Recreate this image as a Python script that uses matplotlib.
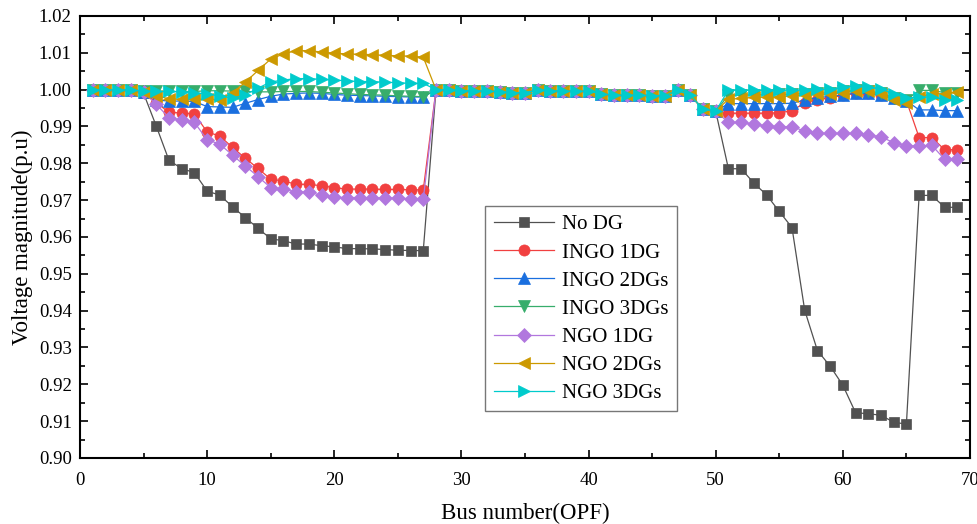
import matplotlib
matplotlib.use("Agg")
import matplotlib.pyplot as plt
from matplotlib.ticker import MultipleLocator, FormatStrFormatter

plt.rcParams['font.family'] = ['Liberation Serif', 'DejaVu Serif']

buses = list(range(1, 70))

# shared lateral-branch values (buses 28-50), identical for all cases
lateral_28_50 = [0.99999, 0.99993, 0.99974, 0.99970, 0.99961, 0.99943, 0.99920, 0.99915,
                 0.99996, 0.99974, 0.99960, 0.99958, 0.99958, 0.99883, 0.99851, 0.99847,
                 0.99846, 0.99839, 0.99839, 0.99978, 0.99854, 0.99469, 0.99415]

no_dg_1_27 = [1.0, 0.99997, 0.99993, 0.99984, 0.99902, 0.99009, 0.98079, 0.97858, 0.97745,
              0.97245, 0.97135, 0.96819, 0.96526, 0.96237, 0.95951, 0.95898, 0.95809, 0.95808,
              0.95762, 0.95732, 0.95684, 0.95683, 0.95676, 0.95659, 0.95640, 0.95632, 0.95630]
no_dg_51_69 = [0.97853, 0.97853, 0.97465, 0.97141, 0.96693, 0.96256, 0.94011, 0.92917, 0.92493,
               0.91975, 0.91230, 0.91200, 0.91161, 0.90970, 0.90919, 0.97129, 0.97129, 0.96806, 0.96806]

ingo1_1_27 = [1.0, 0.99998, 0.99995, 0.9999, 0.9995, 0.9965, 0.9938, 0.9937, 0.9934, 0.9885,
              0.9874, 0.9843, 0.9814, 0.9786, 0.9757, 0.9752, 0.9743, 0.9743, 0.9739, 0.9734,
              0.9730, 0.9730, 0.9730, 0.9729, 0.9729, 0.9728, 0.9728]
ingo1_51_69 = [0.9936, 0.9936, 0.9936, 0.9936, 0.9937, 0.9943, 0.9964, 0.9973, 0.9978, 0.9985,
               0.9991, 0.9991, 0.9986, 0.9976, 0.9970, 0.9870, 0.9870, 0.9837, 0.9837]

ingo2_1_27 = [1.0, 0.99998, 0.99995, 0.9999, 0.9993, 0.9972, 0.9969, 0.9969, 0.9968, 0.9954,
              0.9953, 0.9952, 0.9963, 0.9973, 0.9982, 0.9988, 0.9990, 0.9991, 0.9990, 0.9987,
              0.9985, 0.9984, 0.9983, 0.9982, 0.9981, 0.9980, 0.9980]
ingo2_51_69 = [0.9962, 0.9962, 0.9962, 0.9962, 0.9962, 0.9963, 0.9972, 0.9978, 0.9982, 0.9985,
               0.9990, 0.9990, 0.9985, 0.9976, 0.9970, 0.9945, 0.9945, 0.9943, 0.9943]

ingo3_1_27 = [1.0, 0.99998, 0.99995, 0.9999, 0.9996, 0.9995, 0.9995, 0.9995, 0.9995, 0.9997,
              0.9997, 0.9996, 0.9995, 0.9994, 0.9994, 0.9995, 0.9995, 0.9995, 0.9993, 0.9991,
              0.9989, 0.9987, 0.9986, 0.9985, 0.9983, 0.9982, 0.9981]
ingo3_51_69 = [0.9985, 0.9985, 0.9986, 0.9986, 0.9987, 0.9988, 0.9989, 0.9990, 0.9992, 0.9995,
               0.9998, 0.9996, 0.9991, 0.9978, 0.9972, 0.9998, 0.9998, 0.9992, 0.9992]

ngo1_1_27 = [1.0, 0.99998, 0.99995, 0.9999, 0.9993, 0.9960, 0.9924, 0.9917, 0.9911, 0.9864,
             0.9852, 0.9822, 0.9793, 0.9764, 0.9734, 0.9730, 0.9722, 0.9722, 0.9713, 0.9708,
             0.9707, 0.9707, 0.9706, 0.9706, 0.9705, 0.9704, 0.9702]
ngo1_51_69 = [0.9911, 0.9911, 0.9906, 0.9902, 0.9899, 0.9899, 0.9888, 0.9881, 0.9881, 0.9881,
              0.9881, 0.9877, 0.9872, 0.9856, 0.9847, 0.9847, 0.9849, 0.9811, 0.9811]

ngo2_1_27 = [1.0, 0.99998, 0.99995, 0.9999, 0.9994, 0.9984, 0.9975, 0.9974, 0.9974, 0.9974,
             0.9973, 0.9992, 1.0020, 1.0052, 1.0083, 1.0097, 1.0106, 1.0106, 1.0102, 1.0099,
             1.0097, 1.0096, 1.0095, 1.0093, 1.0092, 1.0091, 1.0088]
ngo2_51_69 = [0.9974, 0.9976, 0.9979, 0.9980, 0.9981, 0.9983, 0.9985, 0.9987, 0.9988, 0.9992,
              0.9997, 0.9995, 0.9988, 0.9972, 0.9965, 0.9979, 0.9989, 0.9989, 0.9993]

ngo3_1_27 = [1.0, 0.99998, 0.99995, 0.9999, 0.9996, 0.9995, 0.9995, 0.9994, 0.9992, 0.9988,
             0.9983, 0.9977, 0.9986, 1.0004, 1.0021, 1.0026, 1.0030, 1.0030, 1.0028, 1.0026,
             1.0024, 1.0022, 1.0022, 1.0020, 1.0019, 1.0017, 1.0017]
ngo3_51_69 = [0.9999, 0.9998, 0.9998, 0.9998, 0.9998, 0.9999, 0.9999, 1.0001, 1.0001, 1.0006,
              1.0011, 1.0006, 1.0002, 0.9988, 0.9977, 0.9980, 0.9980, 0.9973, 0.9973]

labels = ["No DG", "INGO 1DG", "INGO 2DGs", "INGO 3DGs", "NGO 1DG", "NGO 2DGs", "NGO 3DGs"]
colors = ["#515151", "#F14040", "#1A6FDF", "#37AD6B", "#B177DE", "#CC9900", "#00CBCC"]
markers = ["s", "o", "^", "v", "D", "<", ">"]
msizes = [7, 8, 8, 8, 7, 8, 8]

series = [
    no_dg_1_27 + lateral_28_50 + no_dg_51_69,
    ingo1_1_27 + lateral_28_50 + ingo1_51_69,
    ingo2_1_27 + lateral_28_50 + ingo2_51_69,
    ingo3_1_27 + lateral_28_50 + ingo3_51_69,
    ngo1_1_27 + lateral_28_50 + ngo1_51_69,
    ngo2_1_27 + lateral_28_50 + ngo2_51_69,
    ngo3_1_27 + lateral_28_50 + ngo3_51_69,
]

fig = plt.figure(figsize=(9.78, 5.24), dpi=100)
ax = fig.add_axes([0.0818, 0.126, 0.910, 0.8435])

for y, lab, c, m, ms in zip(series, labels, colors, markers, msizes):
    ax.plot(buses, y, color=c, marker=m, markersize=ms, linewidth=0.9,
            markeredgecolor=c, markeredgewidth=0.5, label=lab)

ax.set_xlim(0, 70)
ax.set_ylim(0.90, 1.02)
ax.xaxis.set_major_locator(MultipleLocator(10))
ax.xaxis.set_minor_locator(MultipleLocator(5))
ax.yaxis.set_major_locator(MultipleLocator(0.01))
ax.yaxis.set_minor_locator(MultipleLocator(0.005))
ax.yaxis.set_major_formatter(FormatStrFormatter('%.2f'))
ax.tick_params(which='both', direction='in', top=True, right=True, labelsize=13.5, width=1.2)
ax.tick_params(which='major', length=6)
ax.tick_params(which='minor', length=3.5)
ax.tick_params(axis='x', pad=10)
ax.tick_params(axis='y', pad=6)
for sp in ax.spines.values():
    sp.set_linewidth(1.5)

ax.set_xlabel("Bus number(OPF)", fontsize=16.5, labelpad=10)
ax.set_ylabel("Voltage magnitude(p.u)", fontsize=16.5, labelpad=4)

leg = ax.legend(loc='upper left', bbox_to_anchor=(0.4555, 0.569), fontsize=15,
                frameon=True, fancybox=False, edgecolor='#555555', handlelength=2.9,
                borderpad=0.4, labelspacing=0.41, handletextpad=0.4, borderaxespad=0)
leg.get_frame().set_linewidth(1.0)

fig.savefig("out.png", dpi=100)
